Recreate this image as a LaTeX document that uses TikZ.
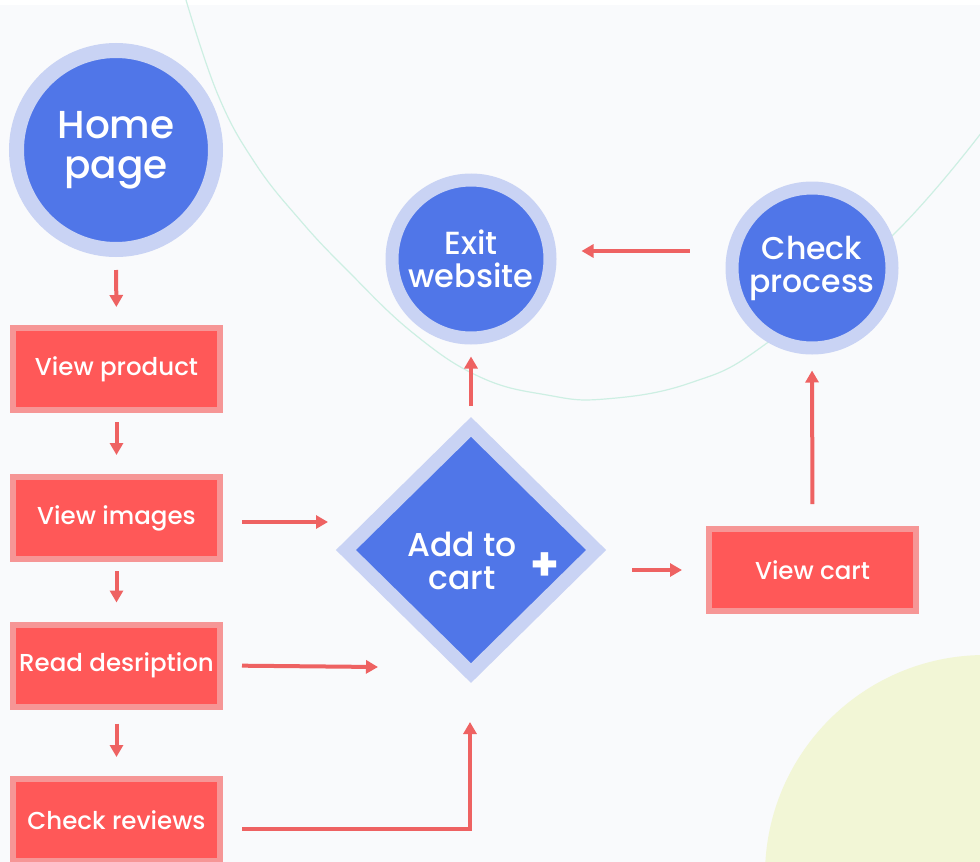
\documentclass[tikz,border=0pt]{standalone}
\usepackage{fontspec}
\setmainfont{Poppins Medium}
\newfontfamily\popbold{Poppins Bold}
\usetikzlibrary{shapes.geometric,arrows.meta}
\definecolor{bg}{HTML}{F9FAFC}
\definecolor{blu}{HTML}{5076E8}
\definecolor{ring}{HTML}{C9D3F4}
\definecolor{redin}{HTML}{FF5858}
\definecolor{redout}{HTML}{F69696}
\definecolor{arrc}{HTML}{EE6262}
\definecolor{yel}{HTML}{F2F6D6}
\definecolor{mint}{HTML}{CDEFE3}
\tikzset{
  circ/.style={circle, fill=blu, draw=ring, text=white, align=center, inner sep=0pt},
  rbox/.style={rectangle, fill=redin, draw=redout, line width=6pt, minimum width=207pt,
    minimum height=82pt, text=white, inner sep=0pt, font=\fontsize{24.5}{27}\selectfont},
  arr/.style={draw=arrc, line width=4pt, -{Triangle[length=12pt,width=13pt]}},
}
\begin{document}
\begin{tikzpicture}[x=1pt,y=-1pt]
\useasboundingbox (0,0) rectangle (980,862);
\begin{scope}
\clip (0,0) rectangle (980,862);
\fill[bg] (0,0) rectangle (980,862);
\fill[white] (0,0) rectangle (980,5);
\fill[yel] (985,875) circle[radius=220pt];
\draw[mint, line width=1.2pt] plot[smooth, tension=0.7] coordinates
  {(186,0) (218,95) (255,163) (300,220) (347,270) (413,333) (480,377) (547,395)
   (605,399) (690,383) (767,343) (895,233) (985,128)};
\end{scope}

% nodes
\node[circ, line width=15pt, minimum size=199pt, font=\fontsize{39}{40}\selectfont]
  (home) at (116,150) {Home\\page};
\node[rbox] (vprod) at (116.5,369) {View product};
\node[rbox] (vimg) at (116.5,518) {View images};
\node[rbox] (rdesc) at (116.5,665.5) {Read desription};
\node[rbox] (crev) at (116.5,820) {Check reviews};
\node[circ, line width=13pt, minimum size=158pt, font=\fontsize{32}{33}\selectfont]
  (exit) at (471,259) {Exit\\website};
\node[circ, line width=13pt, minimum size=160pt, font=\fontsize{31.5}{33}\selectfont]
  (check) at (812,268) {Check\\process};
\node[diamond, aspect=1, fill=blu, draw=ring, line width=14pt, minimum width=256pt,
  minimum height=252pt, inner sep=0pt] (add) at (471,550) {};
\node[text=white, align=center, font=\fontsize{33}{33}\selectfont] (addtxt) at (462,561) {Add to\\cart};
\node[text=white, font=\popbold\fontsize{46}{46}\selectfont] (plus) at (545,567) {+};
\node[rbox] (vcart) at (812.5,570) {View cart};

% arrow end points
\coordinate (tA) at (328,522);
\coordinate (tB) at (378,667);
\coordinate (tC) at (470,722);

% connectors
\draw[arr, shorten <=13pt, shorten >=18pt] (home.south) -- (vprod.north);
\draw[arr, shorten <=9pt, shorten >=19pt] (vprod.south) -- (vimg.north);
\draw[arr, shorten <=9pt, shorten >=19pt] (vimg.south) -- (rdesc.north);
\draw[arr, shorten <=14pt, shorten >=19pt] (rdesc.south) -- (crev.north);
\draw[arr, shorten <=19pt] ([yshift=-4pt]vimg.east) -- (tA);
\draw[arr, shorten <=19pt] (rdesc.east) -- (tB);
\draw[arr, shorten <=19pt] ([yshift=-9pt]crev.east) -| (tC);
\draw[arr, shorten <=11pt, shorten >=12pt] (add.north) -- (exit.south);
\draw[arr, shorten <=36pt, shorten >=25pt] ([yshift=17pt]check.west) -- ([yshift=8pt]exit.east);
\draw[arr, shorten <=26pt, shorten >=24pt] (vcart.west -| add.east) -- (vcart.west);
\draw[arr, shorten <=22pt, shorten >=16pt] (vcart.north) -- (check.south);
\end{tikzpicture}
\end{document}
